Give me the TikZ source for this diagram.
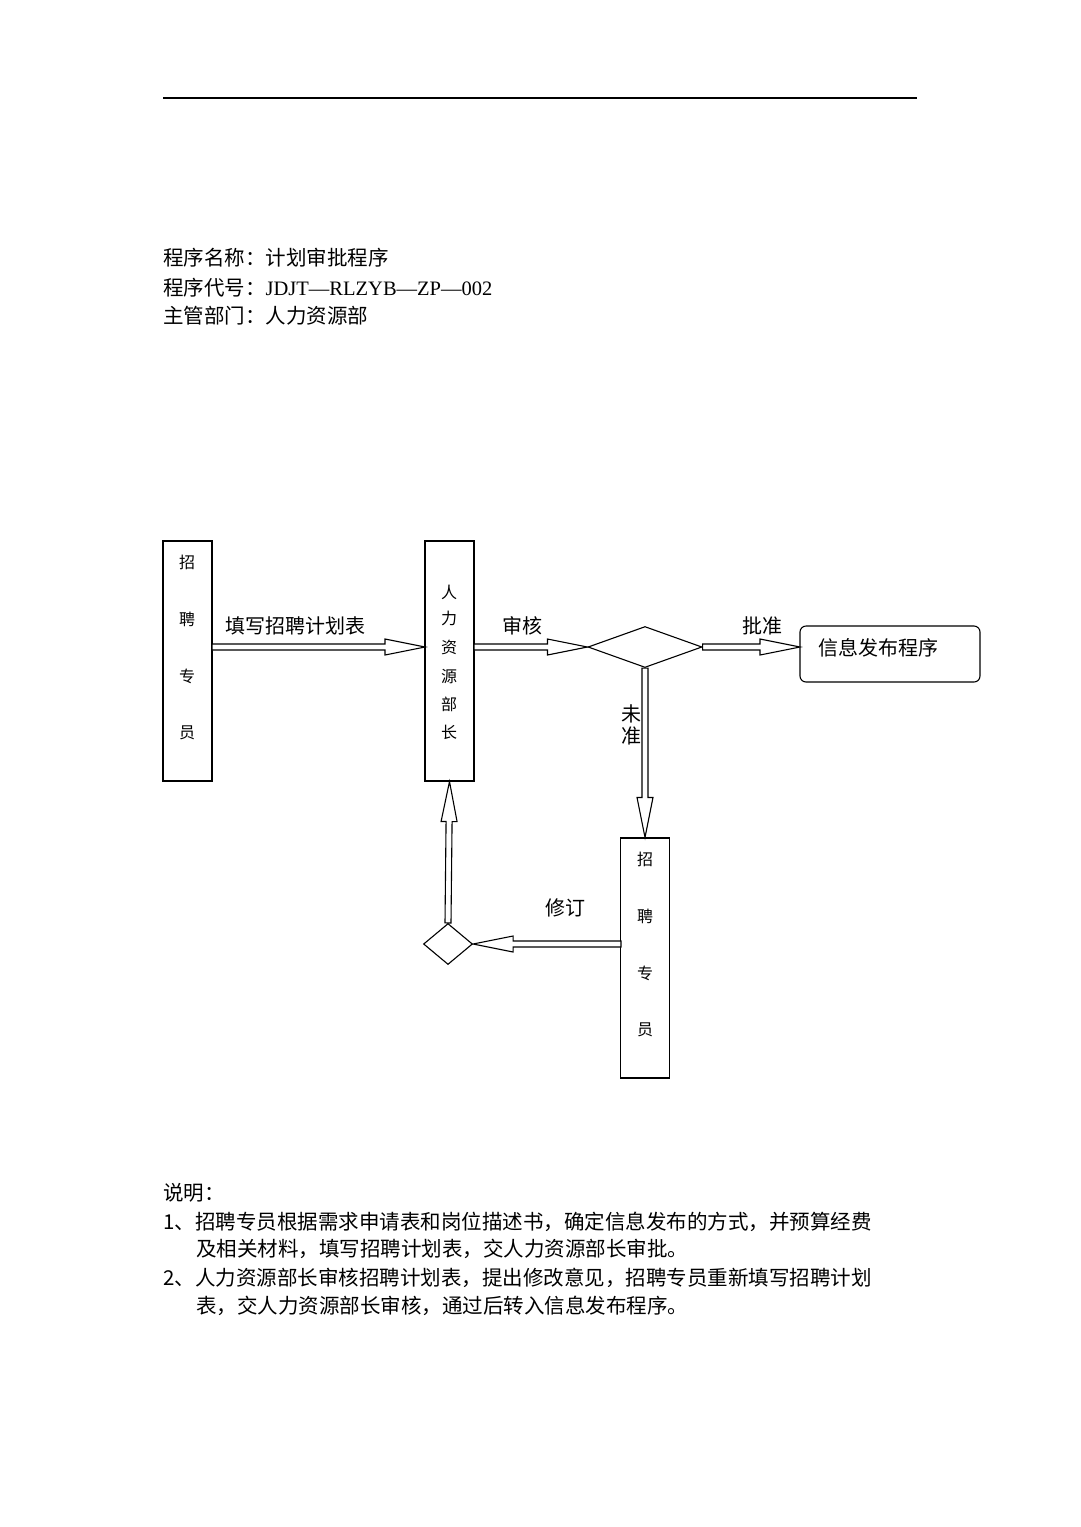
\documentclass[tikz,border=0pt]{standalone}
\usepackage{fontspec}
\setmainfont{Liberation Serif}
\newfontfamily\cjk{Noto Sans CJK SC}
\usetikzlibrary{calc,shapes.geometric}
\newcommand\blockarr[2]{\draw[fill=white,line width=1.1pt] let \p1=(#1), \p2=(#2), \n1={atan2(\y2-\y1,\x2-\x1)}, \n2={veclen(\x2-\x1,\y2-\y1)} in [shift={(\p1)},rotate=\n1] (0,3)--(\n2-40,3)--(\n2-40,8)--(\n2,0)--(\n2-40,-8)--(\n2-40,-3)--(0,-3)--cycle;}
\begin{document}
\begin{tikzpicture}[x=1pt,y=-1pt,
  box/.style={draw,line width=1.1pt,minimum width=49pt,minimum height=240pt,inner sep=0pt},
  vch/.style={font=\cjk\fontsize{16}{16}\selectfont},
  lab/.style={font=\cjk\fontsize{20}{20}\selectfont},
  txt/.style={anchor=west,font=\fontsize{20.5}{24}\selectfont,inner sep=0pt}]
\useasboundingbox (0,0) rectangle (1080,1527);
\draw[line width=1.1pt] (163,98) -- (917,98);
\node[txt] (h1) at (163,258) {\cjk 程序名称：计划审批程序};
\node[txt] (h2) at (163,288) {\cjk 程序代号：\normalfont JDJT—RLZYB—ZP—002};
\node[txt] (h3) at (163,316) {\cjk 主管部门：人力资源部};
\node[box] (b1) at (187.5,661) {};
\node[box] (b2) at (449.5,661) {};
\node[box] (b3) at (645,958) {};
\node[draw,line width=1.1pt,diamond,aspect=2.8,minimum width=114pt,minimum height=41pt,inner sep=0pt] (d1) at (645,647) {};
\node[draw,line width=1.1pt,diamond,minimum width=49pt,minimum height=41pt,inner sep=0pt,aspect=1.2] (d2) at (448,944) {};
\node[draw,line width=1.1pt,rounded corners=6pt,minimum width=180pt,minimum height=56pt,inner sep=0pt] (info) at (890,654) {};
\node[lab,anchor=west] (infot) at (815,648) {信息发布程序};
\foreach \c/\y in {招/562,聘/619,专/676,员/733} \node[vch] (l1\y) at (187,\y) {\c};
\foreach \c/\y in {人/592,力/618,资/647,源/676,部/704,长/732} \node[vch] (l2\y) at (449,\y) {\c};
\foreach \c/\y in {招/859,聘/916,专/973,员/1030} \node[vch] (l3\y) at (645,\y) {\c};
\coordinate (a1s) at (212,647); \coordinate (a1e) at (425,647);
\coordinate (a2s) at (474,647); \coordinate (a3e) at (800,647);
\blockarr{a1s}{a1e}
\blockarr{a2s}{d1.west}
\blockarr{d1.east}{a3e}
\blockarr{d1.south}{b3.north}
\coordinate (a5s) at (621,944);
\blockarr{a5s}{d2.east}
\blockarr{d2.north}{b2.south}
\node[lab] (t1) at (295,626) {填写招聘计划表};
\node[lab] (t2) at (522,626) {审核};
\node[lab] (t3) at (762,626) {批准};
\node[lab,align=center] (t4) at (631,725) {未\\[2pt]准};
\node[lab] (t5) at (565,908) {修订};
\node[txt] (n0) at (163,1193) {\cjk 说明：};
\node[txt] (n1) at (163,1222) {\cjk 1、招聘专员根据需求申请表和岗位描述书，确定信息发布的方式，并预算经费};
\node[txt] (n2) at (196,1249) {\cjk 及相关材料，填写招聘计划表，交人力资源部长审批。};
\node[txt] (n3) at (163,1278) {\cjk 2、人力资源部长审核招聘计划表，提出修改意见，招聘专员重新填写招聘计划};
\node[txt] (n4) at (196,1306) {\cjk 表，交人力资源部长审核，通过后转入信息发布程序。};
\end{tikzpicture}
\end{document}
